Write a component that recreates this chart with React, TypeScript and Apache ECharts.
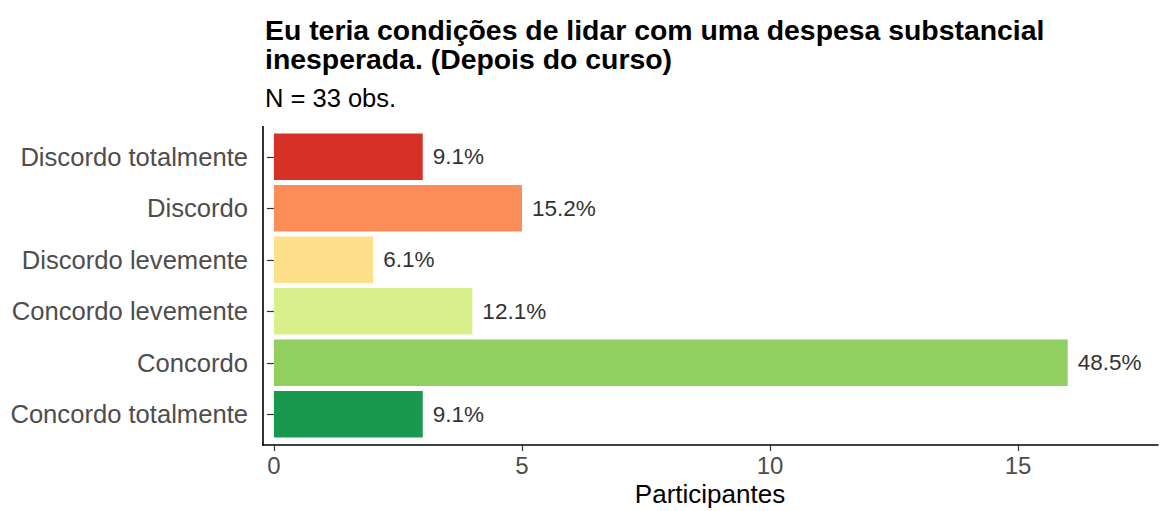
import React, { useEffect, useRef } from "react";
import * as echarts from "echarts";

const categories = [
  "Discordo totalmente",
  "Discordo",
  "Discordo levemente",
  "Concordo levemente",
  "Concordo",
  "Concordo totalmente",
];
const values = [3, 5, 2, 4, 16, 3];
const colors = ["#D73027", "#FC8D59", "#FEE08B", "#D9EF8B", "#91CF60", "#1A9850"];
const xTicks = [0, 5, 10, 15];
const titleLines = [
  "Eu teria condições de lidar com uma despesa substancial",
  "inesperada. (Depois do curso)",
];
const subtitle = "N = 33 obs.";
const xTitle = "Participantes";

const FONT = "'Liberation Sans', Arial, sans-serif";

export default function App() {
  const ref = useRef<HTMLDivElement>(null);
  useEffect(() => {
    if (!ref.current) return;
    const chart = echarts.init(ref.current, null, { renderer: "svg" });
    const total = values.reduce((a, b) => a + b, 0);
    chart.setOption({
      animation: false,
      backgroundColor: "#ffffff",
      textStyle: { fontFamily: FONT },
      grid: { left: 263, right: 3, top: 131, height: 309, containLabel: false },
      xAxis: {
        type: "value",
        min: -0.22,
        max: 17.82,
        offset: 5,
        axisLine: { show: true, onZero: false, lineStyle: { color: "#000", width: 1.6 } },
        axisTick: { show: true, length: 6, customValues: xTicks, lineStyle: { color: "#333", width: 1.2 } },
        axisLabel: {
          customValues: xTicks,
          fontSize: 24,
          color: "#4D4D4D",
          margin: 8,
          fontFamily: FONT,
        },
        splitLine: { show: false },
      },
      yAxis: {
        type: "category",
        data: categories,
        inverse: true,
        axisLine: { show: false },
        axisTick: { show: true, length: 7, alignWithLabel: true, lineStyle: { color: "#333", width: 1.2 } },
        axisLabel: { fontSize: 25.6, color: "#4D4D4D", margin: 15, fontFamily: FONT },
      },
      series: [
        {
          type: "bar",
          barCategoryGap: "10%",
          data: values.map((v, i) => ({ value: v, itemStyle: { color: colors[i] } })),
          label: {
            show: true,
            position: "right",
            distance: 10,
            fontSize: 22.5,
            color: "#333",
            fontFamily: FONT,
            formatter: (p: any) => ((p.value / total) * 100).toFixed(1) + "%",
          },
        },
      ],
      graphic: [
        {
          type: "line",
          shape: { x1: 263, y1: 126, x2: 263, y2: 445.8 },
          style: { stroke: "#000", lineWidth: 1.6 },
        },
        {
          type: "text",
          x: 265,
          y: 16,
          style: { text: titleLines[0], font: `bold 28.4px ${FONT}`, fill: "#000", textVerticalAlign: "top" },
        },
        {
          type: "text",
          x: 265,
          y: 45,
          style: { text: titleLines[1], font: `bold 28.4px ${FONT}`, fill: "#000", textVerticalAlign: "top" },
        },
        {
          type: "text",
          x: 265,
          y: 85,
          style: { text: subtitle, font: `25.5px ${FONT}`, fill: "#000", textVerticalAlign: "top" },
        },
        {
          type: "text",
          x: 710,
          y: 481,
          style: { text: xTitle, font: `26px ${FONT}`, fill: "#000", textAlign: "center", textVerticalAlign: "top" },
        },
      ],
    });
    return () => chart.dispose();
  }, []);
  return <div ref={ref} style={{ width: 1161, height: 511, position: "fixed", left: 0, top: 0 }} />;
}
